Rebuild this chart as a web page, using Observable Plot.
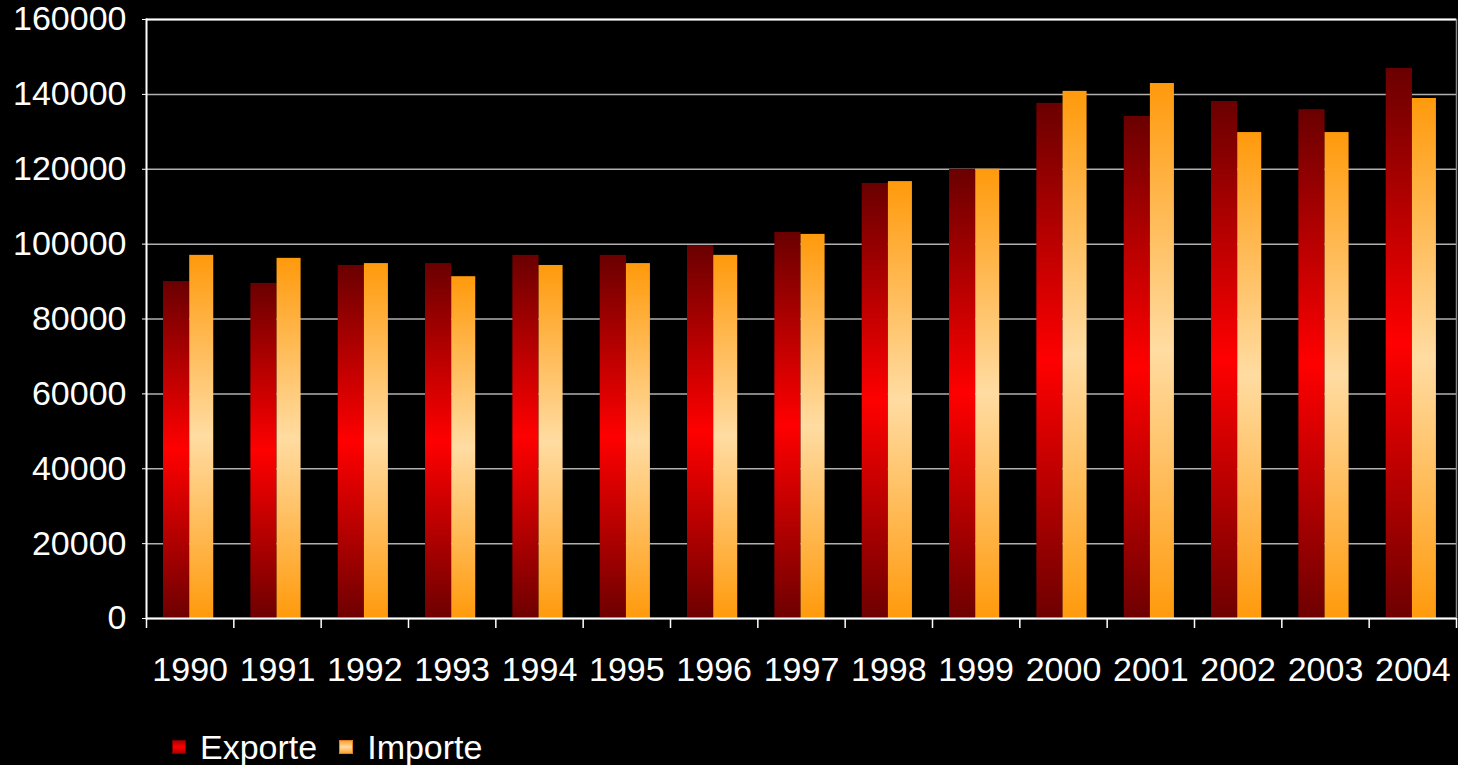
<!DOCTYPE html>
<html>
<head>
<meta charset="utf-8">
<script src="https://cdn.jsdelivr.net/npm/d3@7"></script>
<script src="https://cdn.jsdelivr.net/npm/@observablehq/plot@0.6"></script>
<style>
  html, body { margin: 0; padding: 0; background: #000; }
  body { width: 1458px; height: 765px; position: relative; overflow: hidden; font-family: "Liberation Sans", Arial, sans-serif; }
  #legend { position: absolute; left: 172px; top: 728px; height: 38px; display: flex; align-items: center; color: #fff; font-size: 34px; line-height: 38px; }
  .sw { width: 14px; height: 14px; display: inline-block; margin-right: 14px; box-sizing: border-box; }
  .item { display: flex; align-items: center; margin-right: 22px; }
</style>
</head>
<body>
<div id="chart"></div>
<div id="legend"></div>
<script>
const years = [1990, 1991, 1992, 1993, 1994, 1995, 1996, 1997, 1998, 1999, 2000, 2001, 2002, 2003, 2004];
const exporte = [90000, 89500, 94300, 94800, 97000, 97000, 99600, 103100, 116200, 120000, 137600, 134100, 138100, 135900, 146900];
const importe = [97000, 96200, 94800, 91300, 94300, 94800, 97000, 102600, 116700, 120000, 140800, 142900, 129800, 129800, 138900];
const yTicks = [0, 20000, 40000, 60000, 80000, 100000, 120000, 140000, 160000];
const seriesNames = ["Exporte", "Importe"];

const W = 1458, H = 700, mL = 146, mR = 2, mT = 19, mB = 82;
const bw = (W - mL - mR) / years.length;

const expData = years.map((y, i) => ({year: y, value: exporte[i]}));
const impData = years.map((y, i) => ({year: y, value: importe[i]}));

const defs = () => {
  const d = d3.create("svg:defs");
  const g1 = d.append("linearGradient").attr("id", "gExp").attr("x1", 0).attr("y1", 0).attr("x2", 0).attr("y2", 1);
  [["0%", "#6a0000"], ["50%", "#ff0000"], ["100%", "#6e0000"]].forEach(([o, c]) => g1.append("stop").attr("offset", o).attr("stop-color", c));
  const g2 = d.append("linearGradient").attr("id", "gImp").attr("x1", 0).attr("y1", 0).attr("x2", 0).attr("y2", 1);
  [["0%", "#ff9a0c"], ["50%", "#ffdca2"], ["100%", "#ff9a0c"]].forEach(([o, c]) => g2.append("stop").attr("offset", o).attr("stop-color", c));
  return d.node();
};

const chart = Plot.plot({
  width: W, height: H,
  marginLeft: mL, marginRight: mR, marginTop: mT, marginBottom: mB,
  style: {background: "#000", color: "#fff", fontFamily: "'Liberation Sans', Arial, sans-serif", fontSize: "34px"},
  x: {type: "band", domain: years, padding: 0, round: false, label: null},
  y: {domain: [0, 160000], label: null},
  marks: [
    defs,
    Plot.gridY(yTicks, {stroke: "#b0b0b0", strokeOpacity: 1, strokeWidth: 1.5}),
    Plot.ruleY([160000], {stroke: "#fff", strokeWidth: 2}),
    Plot.frame({anchor: "right", stroke: "#888", strokeWidth: 1.5}),
    Plot.barY(expData, {x: "year", y: "value", fill: "url(#gExp)", insetLeft: bw * 0.195, insetRight: bw * 0.505}),
    Plot.barY(impData, {x: "year", y: "value", fill: "url(#gImp)", insetLeft: bw * 0.495, insetRight: bw * 0.23}),
    Plot.frame({anchor: "left", stroke: "#fff", strokeWidth: 2}),
    Plot.ruleY([0], {stroke: "#fff", strokeWidth: 2}),
    Plot.axisY(yTicks, {tickSize: 4, tickPadding: 16, tickFormat: d3.format("d"), fontSize: 34, stroke: "#fff", fill: "#fff", label: null}),
    Plot.axisX({tickSize: 0, tickPadding: 38, fontSize: 34, fill: "#fff", label: null, tickFormat: d => String(d)}),
    Plot.axisX(years, {tickSize: 10, tickFormat: () => "", dx: -bw / 2, stroke: "#fff", strokeWidth: 1.5, label: null}),
    Plot.axisX([years[years.length - 1]], {tickSize: 10, tickFormat: () => "", dx: bw / 2, stroke: "#fff", strokeWidth: 1.5, label: null})
  ]
});
document.getElementById("chart").appendChild(chart);

const legend = document.getElementById("legend");
const swatches = [
  "linear-gradient(#b00000, #ff0000 50%, #b00000)",
  "linear-gradient(#ffa030, #ffdca2 50%, #ffa030)"
];
const borders = ["#7a0000", "#e08020"];
seriesNames.forEach((name, i) => {
  const item = document.createElement("span");
  item.className = "item";
  const sw = document.createElement("span");
  sw.className = "sw";
  sw.style.background = swatches[i];
  sw.style.border = "1px solid " + borders[i];
  item.appendChild(sw);
  item.appendChild(document.createTextNode(name));
  legend.appendChild(item);
});
</script>
</body>
</html>
